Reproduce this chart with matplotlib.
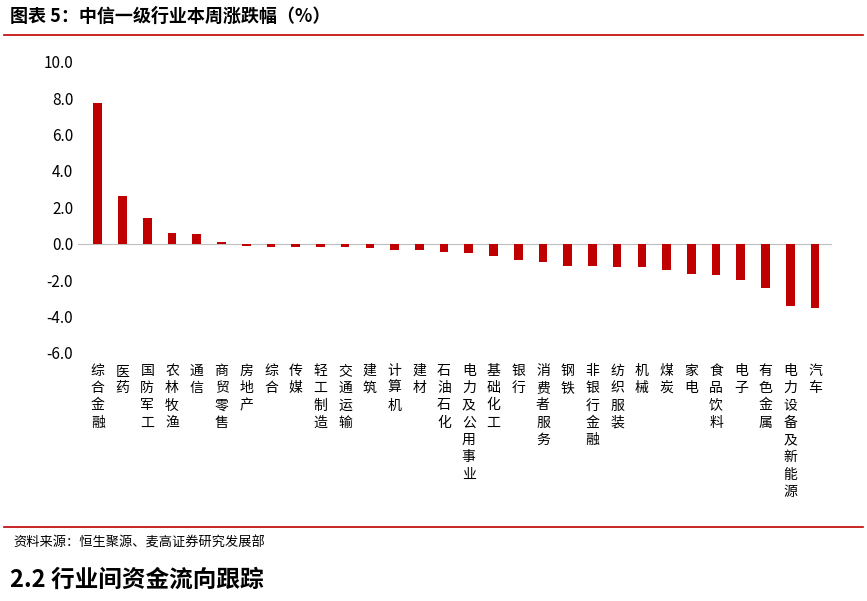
import matplotlib
matplotlib.use("Agg")
import matplotlib.pyplot as plt

plt.rcParams['font.family'] = ['Noto Sans CJK SC', 'DejaVu Sans']

categories = ["综合金融","医药","国防军工","农林牧渔","通信","商贸零售","房地产","综合","传媒","轻工制造",
              "交通运输","建筑","计算机","建材","石油石化","电力及公用事业","基础化工","银行","消费者服务","钢铁",
              "非银行金融","纺织服装","机械","煤炭","家电","食品饮料","电子","有色金属","电力设备及新能源","汽车"]
values = [7.75,2.6,1.4,0.6,0.55,0.1,-0.15,-0.2,-0.2,-0.2,
          -0.2,-0.25,-0.35,-0.35,-0.45,-0.5,-0.65,-0.9,-1.0,-1.2,
          -1.2,-1.3,-1.3,-1.45,-1.65,-1.7,-2.0,-2.45,-3.4,-3.55]
yticks = [-6,-4,-2,0,2,4,6,8,10]

fig = plt.figure(figsize=(8.67,6.01), dpi=100)
fig.text(0.012, 0.972, "图表 5：中信一级行业本周涨跌幅（%）", fontsize=13, fontweight='bold', va='center')
fig.add_artist(plt.Line2D([0.005,0.995],[0.942,0.942], color='#C00000', lw=1.2))
fig.add_artist(plt.Line2D([0.005,0.995],[0.123,0.123], color='#C00000', lw=1.2))
fig.text(0.015, 0.097, "资料来源：恒生聚源、麦高证券研究发展部", fontsize=9.5, va='center')
fig.text(0.012, 0.035, "2.2 行业间资金流向跟踪", fontsize=17, fontweight='bold', va='center')

ax = fig.add_axes([0.09, 0.413, 0.87, 0.484])
x = list(range(len(categories)))
ax.bar(x, values, width=0.35, color='#C00000', zorder=3)
ax.set_ylim(-6, 10)
ax.set_yticks(yticks)
ax.set_yticklabels([f"{v:.1f}" for v in yticks], fontsize=11)
ax.set_xlim(-0.8, len(categories)-0.3)
ax.axhline(0, color='#BFBFBF', lw=0.8, zorder=2)
ax.set_xticks(x)
ax.set_xticklabels(["\n".join(c) for c in categories], fontsize=10, linespacing=1.3, va='top')
ax.tick_params(axis='both', length=0)
ax.tick_params(axis='x', pad=8)
for s in ax.spines.values():
    s.set_visible(False)
fig.savefig("out.png", dpi=100)
